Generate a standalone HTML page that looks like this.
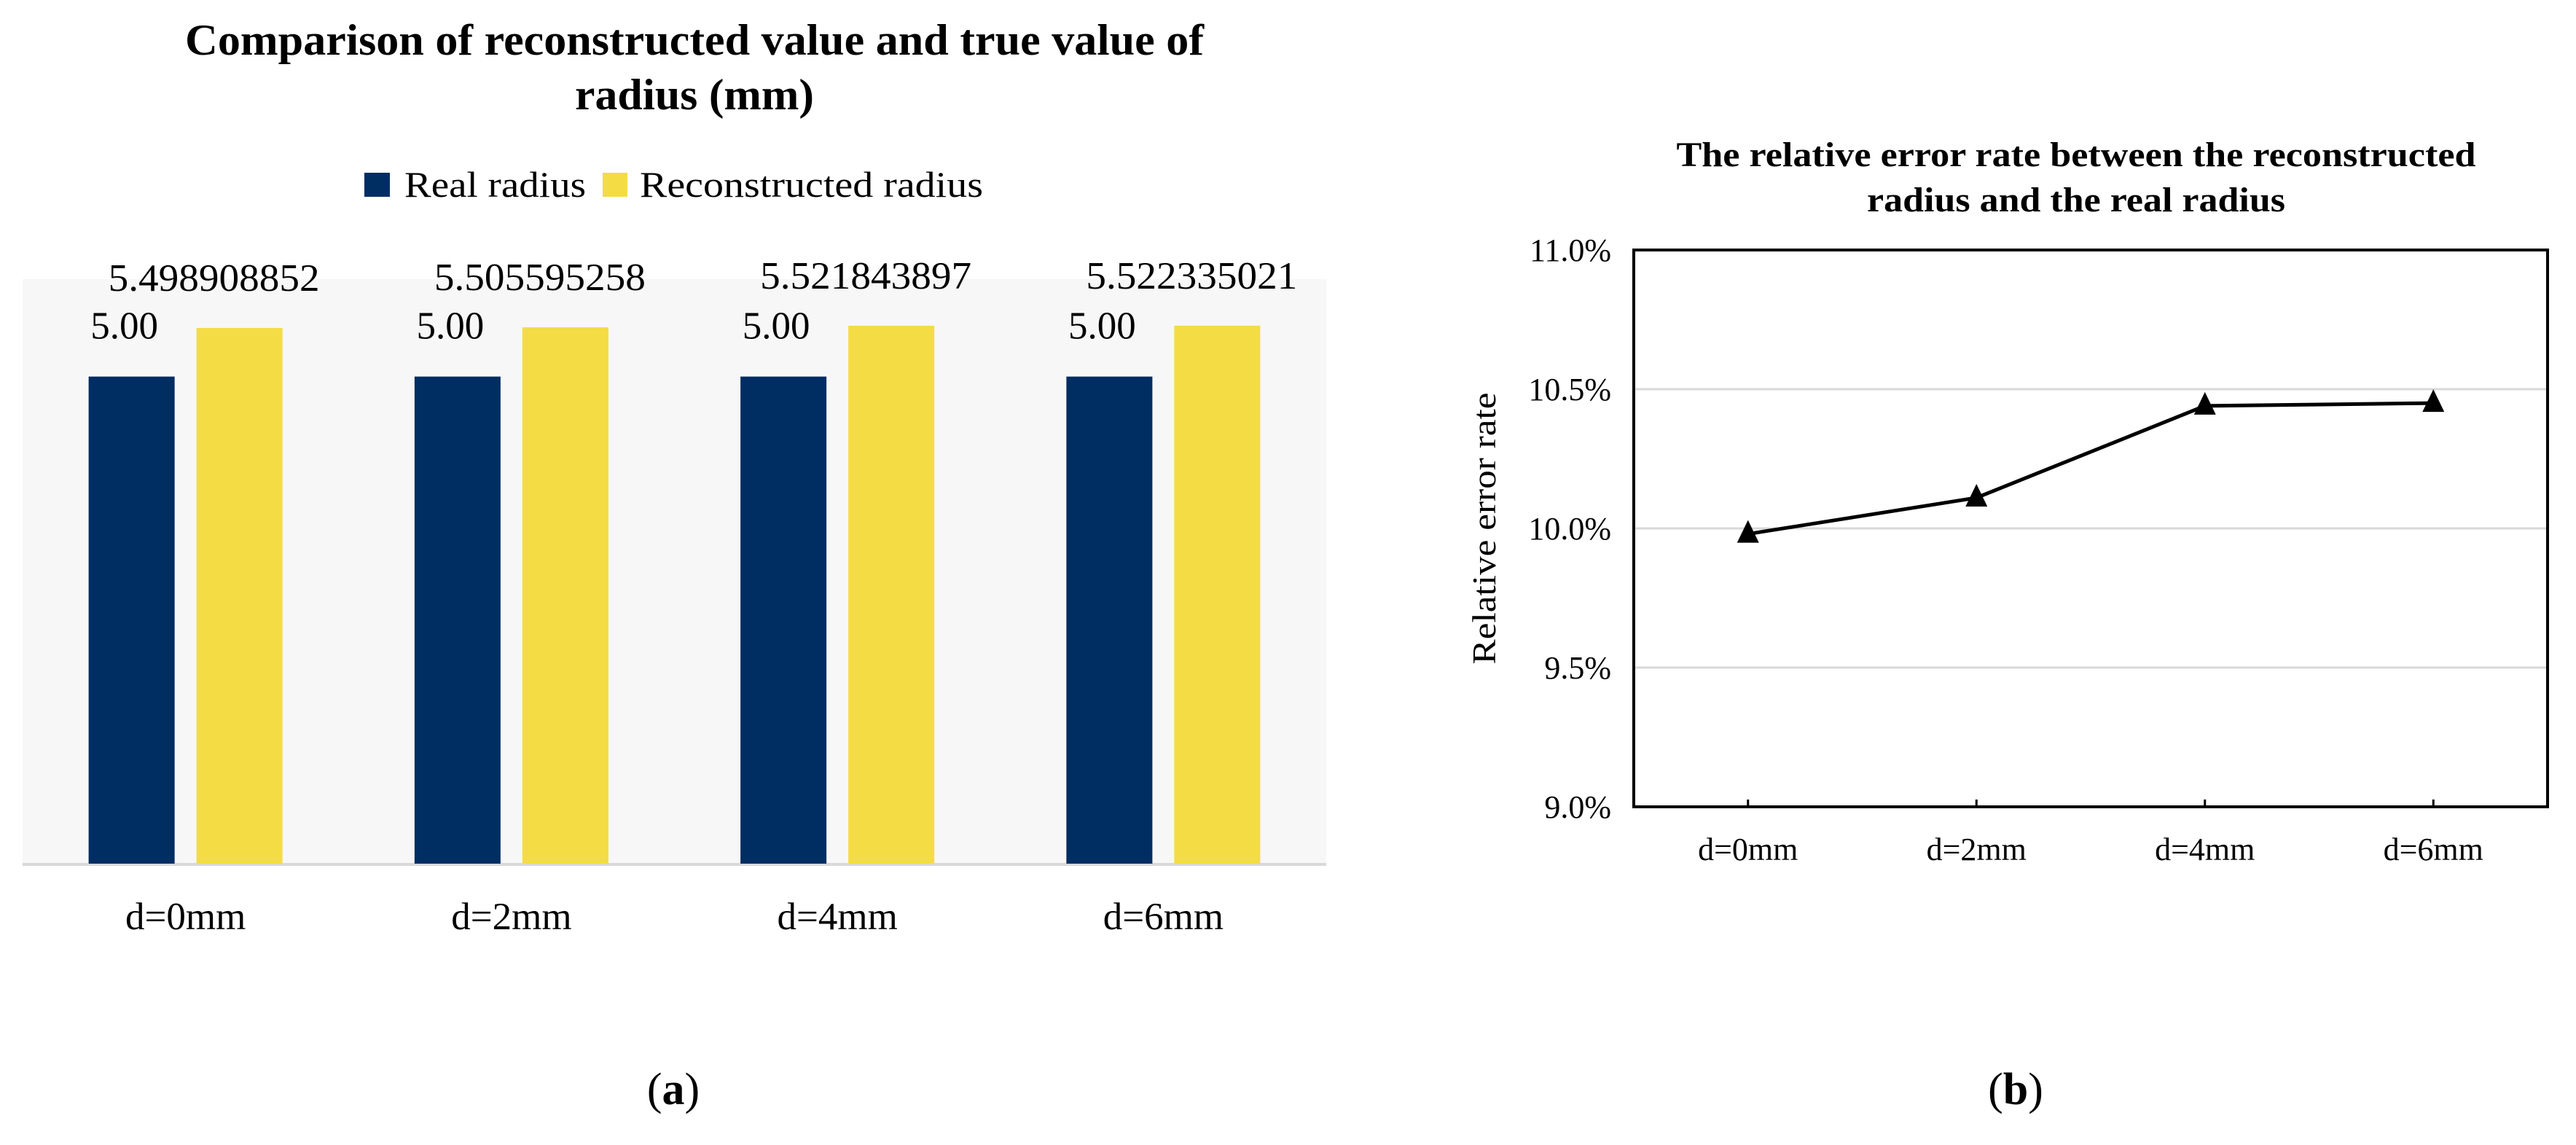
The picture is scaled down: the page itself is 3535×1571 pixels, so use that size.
<!DOCTYPE html>
<html><head><meta charset="utf-8"><style>
html,body{margin:0;padding:0;background:#fff;}
svg{display:block;}
svg text{font-family:"Liberation Serif","DejaVu Serif",serif;}
</style></head><body>
<svg id="fig" width="3535" height="1571" viewBox="0 0 3535 1571" xmlns="http://www.w3.org/2000/svg" font-family="Liberation Serif, serif">
<g id="panelA">
<text x="953" y="75" font-size="60" font-weight="bold" text-anchor="middle" textLength="1398" lengthAdjust="spacingAndGlyphs">Comparison of reconstructed value and true value of</text>
<text x="953" y="150" font-size="60" font-weight="bold" text-anchor="middle" textLength="328" lengthAdjust="spacingAndGlyphs">radius (mm)</text>
<rect x="500" y="237" width="35" height="33" fill="#002d62"/>
<text x="555" y="270" font-size="50" textLength="249" lengthAdjust="spacingAndGlyphs">Real radius</text>
<rect x="827" y="237" width="34" height="33" fill="#f4dc45"/>
<text x="878" y="270" font-size="50" textLength="471" lengthAdjust="spacingAndGlyphs">Reconstructed radius</text>
<rect x="31" y="383" width="1789" height="802" fill="#f7f7f7"/>
<line x1="31" y1="1186" x2="1820" y2="1186" stroke="#d9d9d9" stroke-width="4"/>
<g id="barsA"></g>
</g>
<text x="924" y="1515" font-size="62" text-anchor="middle">(<tspan font-weight="bold">a</tspan>)</text>

<g id="panelB">
<text x="2849" y="228" font-size="48" font-weight="bold" text-anchor="middle" textLength="1097" lengthAdjust="spacingAndGlyphs">The relative error rate between the reconstructed</text>
<text x="2849" y="290" font-size="48" font-weight="bold" text-anchor="middle" textLength="574" lengthAdjust="spacingAndGlyphs">radius and the real radius</text>
<text transform="translate(2052,725) rotate(-90)" font-size="46" text-anchor="middle" textLength="373" lengthAdjust="spacingAndGlyphs">Relative error rate</text>
<g id="gridB"></g>
<rect x="2242" y="343" width="1254" height="764" fill="none" stroke="#000" stroke-width="4"/>
<g id="lineB"></g>
</g>
<text x="2766" y="1515" font-size="62" text-anchor="middle">(<tspan font-weight="bold">b</tspan>)</text>
</svg>
<script>
const categories = ["d=0mm","d=2mm","d=4mm","d=6mm"];
const realRadius = [5.00,5.00,5.00,5.00];
const realLabels = ["5.00","5.00","5.00","5.00"];
const reconRadius = [5.498908852,5.505595258,5.521843897,5.522335021];
const reconLabels = ["5.498908852","5.505595258","5.521843897","5.522335021"];
const errorRate = [9.98,10.11,10.44,10.45];
const yTicksB = [9.0,9.5,10.0,10.5,11.0];
const yTickLabelsB = ["9.0%","9.5%","10.0%","10.5%","11.0%"];

const NS="http://www.w3.org/2000/svg";
function mk(tag,attrs,parent,txt){const e=document.createElementNS(NS,tag);for(const k in attrs)e.setAttribute(k,attrs[k]);if(txt!==undefined)e.textContent=txt;parent.appendChild(e);return e;}

const aLeft=31,aRight=1820,aBase=1185,aTop=383,aMax=6;
const xA=i=>aLeft+(aRight-aLeft)/categories.length*(i+0.5);
const yA=v=>aBase-(v/aMax)*(aBase-aTop);
const barsA=document.getElementById('barsA');
const bw=118,gap=30;
categories.forEach((c,i)=>{
  const cx=xA(i);
  const b1=mk('rect',{x:cx-gap/2-bw,y:yA(realRadius[i]),width:bw,height:aBase-yA(realRadius[i]),fill:'#002d62'},barsA);
  
  
  const b2=mk('rect',{x:cx+gap/2,y:yA(reconRadius[i]),width:bw,height:aBase-yA(reconRadius[i]),fill:'#f4dc45'},barsA);
  
  
  const l1=mk('text',{x:cx-gap/2-bw/2-10,y:yA(realRadius[i])-52,'font-size':53,'text-anchor':'middle'},barsA,realLabels[i]);
  
  
  const l2=mk('text',{x:cx+gap/2+bw/2-35,y:yA(reconRadius[i])-51,'font-size':53,'text-anchor':'middle',textLength:290,lengthAdjust:'spacingAndGlyphs'},barsA,reconLabels[i]);
  
  
  const cl=mk('text',{x:cx,y:1275,'font-size':53,'text-anchor':'middle'},barsA,c);
  
  
});

const bLeft=2242,bRight=3496,bTop=343,bBot=1107,bMin=9,bMax=11;
const xB=i=>bLeft+(bRight-bLeft)/categories.length*(i+0.5);
const yB=v=>bBot-(v-bMin)/(bMax-bMin)*(bBot-bTop);
const gridB=document.getElementById('gridB');
yTicksB.forEach((t,i)=>{
  if(t>bMin&&t<bMax){const g=mk('line',{x1:bLeft,x2:bRight,y1:yB(t),y2:yB(t),stroke:'#d9d9d9','stroke-width':3},gridB);
  
  }
  const tl=mk('text',{x:2211,y:yB(t)+15,'font-size':44,'text-anchor':'end'},gridB,yTickLabelsB[i]);
  
  
});
const lineB=document.getElementById('lineB');
categories.forEach((c,i)=>{
  const tk=mk('line',{x1:xB(i),x2:xB(i),y1:bBot,y2:bBot-10,stroke:'#000','stroke-width':3},lineB);
  
  
  const cl=mk('text',{x:xB(i),y:1180,'font-size':44,'text-anchor':'middle'},lineB,c);
  
  
});
const pts=errorRate.map((v,i)=>xB(i)+','+yB(v)).join(' ');
const pl=mk('polyline',{points:pts,fill:'none',stroke:'#000','stroke-width':5},lineB);


errorRate.forEach((v,i)=>{
  const x=xB(i),y=yB(v);
  const m=mk('polygon',{points:`${x},${y-19} ${x-15},${y+12} ${x+15},${y+12}`,fill:'#000'},lineB);
  
  
});
</script>
</body></html>
